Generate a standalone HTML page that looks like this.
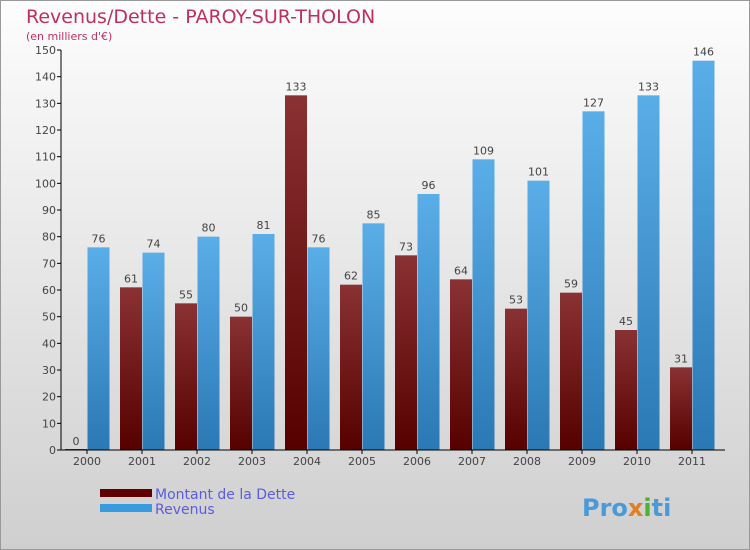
<!DOCTYPE html>
<html><head><meta charset="utf-8"><style>
body{margin:0;width:750px;height:550px;overflow:hidden;font-family:"DejaVu Sans","Liberation Sans",sans-serif}
#wrap{position:absolute;left:0;top:0;width:748px;height:548px;border:1px solid #999;background:linear-gradient(#fdfdfd,#cfcfcf)}
</style></head><body>
<div id="wrap">
<svg id="chart" width="750" height="550" style="position:absolute;left:-1px;top:-1px">
<defs>
<linearGradient id="gd" x1="0" y1="0" x2="0" y2="1"><stop offset="0" stop-color="#8a3233"/><stop offset="1" stop-color="#560000"/></linearGradient>
<linearGradient id="gr" x1="0" y1="0" x2="0" y2="1"><stop offset="0" stop-color="#5aaee8"/><stop offset="1" stop-color="#2a78b4"/></linearGradient>
</defs>
<text x="26" y="23" font-size="19" fill="#c0305e">Revenus/Dette - PAROY-SUR-THOLON</text>
<text x="26" y="40" font-size="11" fill="#c0305e">(en milliers d'€)</text>
<g id="yaxis"></g><g id="bars"></g><g id="xaxis"></g>
<rect x="100" y="489" width="52" height="8" fill="#600000"/>
<text x="155" y="499" font-size="14" fill="#5b5be6">Montant de la Dette</text>
<rect x="100" y="504" width="52" height="8" fill="#3a9ae0"/>
<text x="155" y="514" font-size="14" fill="#5b5be6">Revenus</text>
<text x="582" y="516" font-size="24" font-weight="bold" fill="#4a9ad8">Pro<tspan fill="#e08020">x</tspan><tspan fill="#50b030">i</tspan>ti</text>
</svg>
</div>
<script>
const years=["2000","2001","2002","2003","2004","2005","2006","2007","2008","2009","2010","2011"];
const dette=[0,61,55,50,133,62,73,64,53,59,45,31];
const revenus=[76,74,80,81,76,85,96,109,101,127,133,146];
const yTicks=[0,10,20,30,40,50,60,70,80,90,100,110,120,130,140,150];
const NS="http://www.w3.org/2000/svg";
function y(v){return 450-v*400/150;}
function gx(i){return 65+i*55;}
function mk(t,a,p){const e=document.createElementNS(NS,t);for(const k in a)e.setAttribute(k,a[k]);p.appendChild(e);return e;}
const ya=document.getElementById('yaxis'),ba=document.getElementById('bars'),xa=document.getElementById('xaxis');
const ax=mk('line',{x1:61,y1:50,x2:61,y2:450,stroke:'#000'},ya);


yTicks.forEach(v=>{
  const l=mk('line',{x1:57,x2:61,y1:y(v),y2:y(v),stroke:'#000'},ya);
  
  
  const t=mk('text',{x:56,y:y(v)+4,'text-anchor':'end','font-size':11,fill:'#444'},ya);
  t.textContent=v;
  
  
});
const xl=mk('line',{x1:61,y1:450,x2:725,y2:450,stroke:'#000'},xa);


years.forEach((yr,i)=>{
  const x0=gx(i);
  const d=mk('rect',{x:x0,y:y(dette[i])-(dette[i]===0?1:0),width:22,height:Math.max(1,450-y(dette[i])),fill:'url(#gd)'},ba);
  
  
  const r=mk('rect',{x:x0+22.5,y:y(revenus[i]),width:22,height:450-y(revenus[i]),fill:'url(#gr)'},ba);
  
  
  const dl=mk('text',{x:x0+11,y:y(dette[i])-5,'text-anchor':'middle','font-size':11,fill:'#444'},ba);
  dl.textContent=dette[i];
  
  
  const rl=mk('text',{x:x0+33.5,y:y(revenus[i])-5,'text-anchor':'middle','font-size':11,fill:'#444'},ba);
  rl.textContent=revenus[i];
  
  
  const tk=mk('line',{x1:x0+22,x2:x0+22,y1:450,y2:454,stroke:'#000'},xa);
  
  
  const xt=mk('text',{x:x0+22,y:465,'text-anchor':'middle','font-size':11,fill:'#444'},xa);
  xt.textContent=yr;
  
  
});
</script>
</body></html>
